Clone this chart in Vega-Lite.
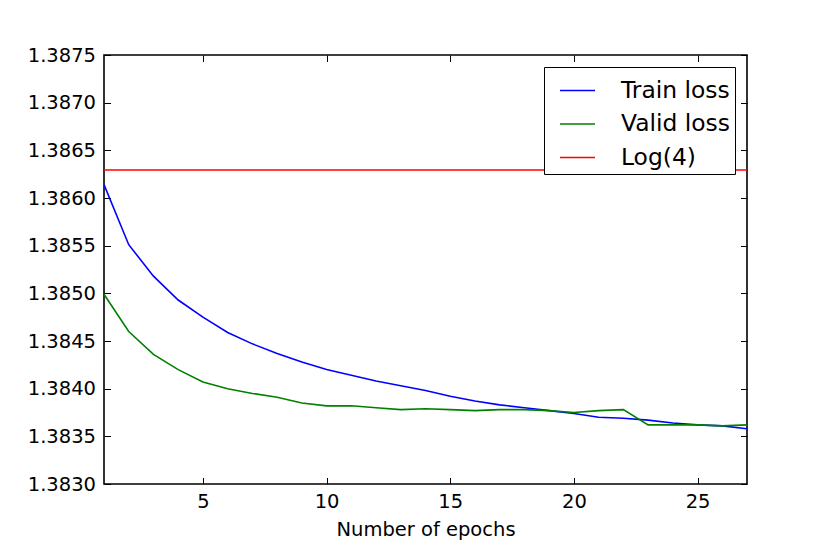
{
  "$schema": "https://vega.github.io/schema/vega-lite/v6.json",
  "description": "Train / valid loss per epoch against log(4)",
  "width": 643,
  "height": 429,
  "autosize": "none",
  "padding": {"left": 104, "top": 55, "right": 83, "bottom": 70},
  "background": "#ffffff",
  "data": {
    "values": [
      {"epoch": 1, "loss": 1.38614, "series": "Train loss"},
      {"epoch": 2, "loss": 1.38551, "series": "Train loss"},
      {"epoch": 3, "loss": 1.38518, "series": "Train loss"},
      {"epoch": 4, "loss": 1.38493, "series": "Train loss"},
      {"epoch": 5, "loss": 1.38475, "series": "Train loss"},
      {"epoch": 6, "loss": 1.38459, "series": "Train loss"},
      {"epoch": 7, "loss": 1.38447, "series": "Train loss"},
      {"epoch": 8, "loss": 1.38437, "series": "Train loss"},
      {"epoch": 9, "loss": 1.38428, "series": "Train loss"},
      {"epoch": 10, "loss": 1.3842, "series": "Train loss"},
      {"epoch": 11, "loss": 1.38414, "series": "Train loss"},
      {"epoch": 12, "loss": 1.38408, "series": "Train loss"},
      {"epoch": 13, "loss": 1.38403, "series": "Train loss"},
      {"epoch": 14, "loss": 1.38398, "series": "Train loss"},
      {"epoch": 15, "loss": 1.38392, "series": "Train loss"},
      {"epoch": 16, "loss": 1.38387, "series": "Train loss"},
      {"epoch": 17, "loss": 1.38383, "series": "Train loss"},
      {"epoch": 18, "loss": 1.3838, "series": "Train loss"},
      {"epoch": 19, "loss": 1.38377, "series": "Train loss"},
      {"epoch": 20, "loss": 1.38374, "series": "Train loss"},
      {"epoch": 21, "loss": 1.3837, "series": "Train loss"},
      {"epoch": 22, "loss": 1.38369, "series": "Train loss"},
      {"epoch": 23, "loss": 1.38367, "series": "Train loss"},
      {"epoch": 24, "loss": 1.38364, "series": "Train loss"},
      {"epoch": 25, "loss": 1.38362, "series": "Train loss"},
      {"epoch": 26, "loss": 1.38361, "series": "Train loss"},
      {"epoch": 27, "loss": 1.38358, "series": "Train loss"},
      {"epoch": 1, "loss": 1.38499, "series": "Valid loss"},
      {"epoch": 2, "loss": 1.3846, "series": "Valid loss"},
      {"epoch": 3, "loss": 1.38436, "series": "Valid loss"},
      {"epoch": 4, "loss": 1.3842, "series": "Valid loss"},
      {"epoch": 5, "loss": 1.38407, "series": "Valid loss"},
      {"epoch": 6, "loss": 1.384, "series": "Valid loss"},
      {"epoch": 7, "loss": 1.38395, "series": "Valid loss"},
      {"epoch": 8, "loss": 1.38391, "series": "Valid loss"},
      {"epoch": 9, "loss": 1.38385, "series": "Valid loss"},
      {"epoch": 10, "loss": 1.38382, "series": "Valid loss"},
      {"epoch": 11, "loss": 1.38382, "series": "Valid loss"},
      {"epoch": 12, "loss": 1.3838, "series": "Valid loss"},
      {"epoch": 13, "loss": 1.38378, "series": "Valid loss"},
      {"epoch": 14, "loss": 1.38379, "series": "Valid loss"},
      {"epoch": 15, "loss": 1.38378, "series": "Valid loss"},
      {"epoch": 16, "loss": 1.38377, "series": "Valid loss"},
      {"epoch": 17, "loss": 1.38378, "series": "Valid loss"},
      {"epoch": 18, "loss": 1.38378, "series": "Valid loss"},
      {"epoch": 19, "loss": 1.38377, "series": "Valid loss"},
      {"epoch": 20, "loss": 1.38375, "series": "Valid loss"},
      {"epoch": 21, "loss": 1.38377, "series": "Valid loss"},
      {"epoch": 22, "loss": 1.38378, "series": "Valid loss"},
      {"epoch": 23, "loss": 1.38362, "series": "Valid loss"},
      {"epoch": 24, "loss": 1.38362, "series": "Valid loss"},
      {"epoch": 25, "loss": 1.38362, "series": "Valid loss"},
      {"epoch": 26, "loss": 1.38361, "series": "Valid loss"},
      {"epoch": 27, "loss": 1.38362, "series": "Valid loss"},
      {"epoch": 1, "loss": 1.386294, "series": "Log(4)"},
      {"epoch": 27, "loss": 1.386294, "series": "Log(4)"}
    ]
  },
  "layer": [
    {
      "mark": {"type": "line", "strokeWidth": 1.6, "clip": true},
      "encoding": {
        "x": {
          "field": "epoch",
          "type": "quantitative",
          "scale": {"domain": [1, 27], "nice": false, "zero": false},
          "axis": {"orient": "bottom", "title": "Number of epochs", "values": [5, 10, 15, 20, 25]}
        },
        "y": {
          "field": "loss",
          "type": "quantitative",
          "scale": {"domain": [1.383, 1.3875], "nice": false, "zero": false},
          "axis": {
            "orient": "left",
            "title": null,
            "format": ".4f",
            "values": [1.383, 1.3835, 1.384, 1.3845, 1.385, 1.3855, 1.386, 1.3865, 1.387, 1.3875]
          }
        },
        "color": {
          "field": "series",
          "type": "nominal",
          "scale": {
            "domain": ["Train loss", "Valid loss", "Log(4)"],
            "range": ["#0000ff", "#008000", "#ff0000"]
          },
          "legend": {
            "title": null,
            "orient": "top-right",
            "offset": 12,
            "symbolType": "stroke",
            "symbolSize": 1225,
            "symbolStrokeWidth": 1.6,
            "symbolOffset": 10,
            "labelOffset": 25,
            "labelFontSize": 23.4,
            "labelColor": "#000000",
            "rowPadding": 3.5,
            "padding": 5,
            "strokeColor": "#000000",
            "fillColor": "#ffffff"
          }
        }
      }
    },
    {
      "mark": {"type": "line", "opacity": 0},
      "encoding": {
        "x": {
          "field": "epoch",
          "type": "quantitative",
          "axis": {"orient": "top", "title": null, "labels": false, "values": [5, 10, 15, 20, 25]}
        },
        "y": {
          "field": "loss",
          "type": "quantitative",
          "axis": {
            "orient": "right",
            "title": null,
            "labels": false,
            "values": [1.383, 1.3835, 1.384, 1.3845, 1.385, 1.3855, 1.386, 1.3865, 1.387, 1.3875]
          }
        },
        "detail": {"field": "series"}
      }
    }
  ],
  "resolve": {"axis": {"x": "independent", "y": "independent"}},
  "config": {
    "font": "DejaVu Sans",
    "view": {"stroke": "#000000", "strokeWidth": 1.6},
    "axis": {
      "domain": false,
      "grid": false,
      "tickSize": -6.5,
      "tickColor": "#000000",
      "tickWidth": 1,
      "labelFontSize": 19.5,
      "labelColor": "#000000",
      "labelPadding": 15,
      "titleFontSize": 19.5,
      "titleFontWeight": "normal",
      "titleColor": "#000000",
      "titlePadding": 9
    }
  }
}
